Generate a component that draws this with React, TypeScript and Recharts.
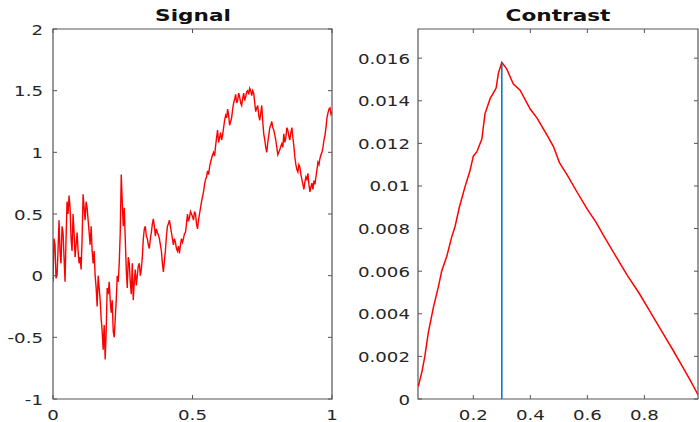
import React from 'react';
import { LineChart, Line, XAxis, YAxis, ReferenceArea, ReferenceLine } from 'recharts';

// signal samples, evenly spaced over [0, 1]
const signalValues = [
  -0.05, 0.3, 0.25, -0.02, 0.0, 0.2, 0.45, 0.2, 0.1, 0.4,
  0.35, 0.15, -0.05, 0.3, 0.6, 0.5, 0.65, 0.55, 0.3, 0.2,
  0.5, 0.35, 0.15, 0.25, 0.35, 0.2, 0.1, 0.15, 0.05, 0.3,
  0.66, 0.55, 0.45, 0.6, 0.55, 0.45, 0.35, 0.25, 0.4, 0.2,
  0.1, 0.2, 0.0, -0.1, -0.25, 0.0, -0.1, -0.2, -0.35, -0.45,
  -0.6, -0.4, -0.68, -0.45, -0.1, -0.15, -0.05, -0.2, -0.3, -0.2,
  -0.45, -0.5, -0.35, -0.2, 0.0, -0.05, 0.1, 0.35, 0.82, 0.6,
  0.4, 0.55, 0.3, 0.05, -0.1, 0.15, 0.1, -0.05, -0.15, 0.1,
  -0.2, -0.05, 0.05, -0.08, 0.0, 0.08, 0.1, 0.0, 0.05, 0.15,
  0.3, 0.38, 0.4, 0.32, 0.3, 0.25, 0.22, 0.3, 0.35, 0.42,
  0.46, 0.4, 0.32, 0.38, 0.35, 0.33, 0.3, 0.25, 0.2, 0.1,
  0.03, 0.12, 0.2, 0.32, 0.4, 0.42, 0.45, 0.4, 0.35, 0.3,
  0.25, 0.3, 0.27, 0.22, 0.2, 0.24, 0.18, 0.25, 0.3, 0.27,
  0.3, 0.34, 0.35, 0.42, 0.5, 0.44, 0.47, 0.52, 0.5, 0.48,
  0.45, 0.52, 0.5, 0.42, 0.38, 0.45, 0.5, 0.55, 0.6, 0.64,
  0.68, 0.74, 0.78, 0.8, 0.85, 0.82, 0.88, 0.92, 0.95, 0.98,
  1.0, 0.97, 1.05, 1.12, 1.18, 1.08, 1.12, 1.16, 1.1, 1.14,
  1.2, 1.26, 1.3, 1.28, 1.35, 1.3, 1.22, 1.25, 1.28, 1.35,
  1.4, 1.43, 1.47, 1.4, 1.42, 1.48, 1.45, 1.4, 1.38, 1.44,
  1.48, 1.42, 1.45, 1.49, 1.5, 1.47, 1.52, 1.5, 1.46, 1.5,
  1.48, 1.4, 1.33, 1.36, 1.38, 1.3, 1.26, 1.32, 1.38, 1.25,
  1.15, 1.1, 1.04, 1.0, 1.08, 1.14, 1.2, 1.22, 1.25, 1.2,
  1.18, 1.14, 1.1, 1.04, 0.98, 1.0, 1.02, 1.05, 1.07, 1.04,
  1.15, 1.08, 1.12, 1.2, 1.18, 1.13, 1.1, 1.16, 1.2, 1.12,
  1.05, 0.96, 0.9, 0.86, 0.84, 0.9, 0.88, 0.82, 0.78, 0.74,
  0.7, 0.76, 0.8, 0.78, 0.83, 0.74, 0.68, 0.72, 0.75, 0.7,
  0.77, 0.74, 0.8, 0.86, 0.92, 0.9, 0.95, 0.98, 1.0, 1.04,
  1.1, 1.14, 1.2, 1.28, 1.32, 1.35, 1.36, 1.31, 1.33,
];
const signalXTicks = [0, 0.5, 1];
const signalYTicks = [-1, -0.5, 0, 0.5, 1, 1.5, 2];

const contrastX = [
  0.007, 0.02, 0.03, 0.042, 0.06, 0.078, 0.089, 0.107, 0.124, 0.136,
  0.151, 0.171, 0.188, 0.2, 0.212, 0.23, 0.241, 0.259, 0.28, 0.288,
  0.3, 0.317, 0.34, 0.364, 0.4, 0.423, 0.458, 0.481, 0.502, 0.53,
  0.56, 0.6, 0.63, 0.66, 0.7, 0.74, 0.78, 0.82, 0.86, 0.9,
  0.93, 0.96, 0.988,
];
const contrastY = [
  0.00058, 0.0013, 0.002, 0.0031, 0.0043, 0.0053, 0.006, 0.0067, 0.0076, 0.0081,
  0.009, 0.00997, 0.0107, 0.0114, 0.0116, 0.0122, 0.0134, 0.0141, 0.0146, 0.0153,
  0.0158, 0.0155, 0.0148, 0.0145, 0.0136, 0.0132, 0.0124, 0.01185, 0.0111, 0.0105,
  0.0098, 0.0089, 0.0083, 0.0076, 0.0067, 0.0058, 0.005, 0.0041, 0.0032, 0.0023,
  0.0016, 0.0009, 0.0002,
];
const contrastXTicks = [0.2, 0.4, 0.6, 0.8];
const contrastYTicks = [0, 0.002, 0.004, 0.006, 0.008, 0.01, 0.012, 0.014, 0.016];

const signalData = signalValues.map((v, i) => ({ x: i / (signalValues.length - 1), y: v }));
const contrastData = contrastX.map((x, i) => ({ x, y: contrastY[i] }));
const peakIdx = contrastY.indexOf(Math.max(...contrastY));

const TOP = 29;
const BOTTOM = 399;
const AXIS = '#555';
const TEXT = '#262626';
const FONT = '"DejaVu Sans", sans-serif';
const TICK_LEN = 4;
const SX = 1.3;

const XTick = (props: any) => {
  const { x, payload } = props;
  return (
    <g>
      <line x1={x} x2={x} y1={BOTTOM} y2={BOTTOM - TICK_LEN} stroke={AXIS} strokeWidth={1} />
      <line x1={x} x2={x} y1={TOP} y2={TOP + TICK_LEN} stroke={AXIS} strokeWidth={1} />
      <text
        transform={`translate(${x},${BOTTOM + 20.5}) scale(${SX},1)`}
        textAnchor="middle"
        fill={TEXT}
        fontSize={14}
        fontFamily={FONT}
      >
        {String(payload.value)}
      </text>
    </g>
  );
};

const YTick = (props: any) => {
  const { y, payload, leftX, rightX, gap } = props;
  return (
    <g>
      <line x1={leftX} x2={leftX + TICK_LEN} y1={y} y2={y} stroke={AXIS} strokeWidth={1} />
      <line x1={rightX} x2={rightX - TICK_LEN} y1={y} y2={y} stroke={AXIS} strokeWidth={1} />
      <text
        transform={`translate(${leftX - gap},${y + 5.5}) scale(${SX},1)`}
        textAnchor="end"
        fill={TEXT}
        fontSize={14}
        fontFamily={FONT}
      >
        {String(payload.value)}
      </text>
    </g>
  );
};

const titleStyle = (center: number): React.CSSProperties => ({
  position: 'absolute',
  left: center,
  top: 7.5,
  transform: 'translateX(-50%) scaleX(1.35)',
  fontFamily: FONT,
  fontWeight: 'bold',
  fontSize: 16,
  lineHeight: '16px',
  color: '#111',
  whiteSpace: 'nowrap',
});

export default function App() {
  return (
    <div style={{ position: 'absolute', left: 0, top: 0, width: 699, height: 422, background: '#fff', overflow: 'hidden' }}>
      <div style={{ position: 'absolute', left: 0, top: 0 }}>
        <LineChart width={345} height={422} data={signalData} margin={{ top: TOP, right: 13, bottom: 422 - BOTTOM - 20, left: 53 - 20 }}>
          <XAxis dataKey="x" type="number" domain={[0, 1]} ticks={signalXTicks} height={20} axisLine={false} tickLine={false} tick={<XTick />} interval={0} allowDataOverflow />
          <YAxis type="number" domain={[-1, 2]} ticks={signalYTicks} width={20} axisLine={false} tickLine={false} tick={<YTick leftX={53} rightX={332} gap={10} />} interval={0} allowDataOverflow />
          <ReferenceArea x1={0} x2={1} y1={-1} y2={2} fill="none" fillOpacity={0} stroke={AXIS} strokeWidth={1.2} />
          <Line dataKey="y" type="linear" stroke="#ff0000" strokeWidth={1.4} dot={false} isAnimationActive={false} />
        </LineChart>
      </div>
      <div style={{ position: 'absolute', left: 345, top: 0 }}>
        <LineChart width={354} height={422} data={contrastData} margin={{ top: TOP, right: 1, bottom: 422 - BOTTOM - 20, left: 73 - 20 }}>
          <XAxis dataKey="x" type="number" domain={[0.006, 0.988]} ticks={contrastXTicks} height={20} axisLine={false} tickLine={false} tick={<XTick />} interval={0} allowDataOverflow />
          <YAxis type="number" domain={[0, 0.01737]} ticks={contrastYTicks} width={20} axisLine={false} tickLine={false} tick={<YTick leftX={73} rightX={353} gap={8} />} interval={0} allowDataOverflow />
          <ReferenceArea x1={0.006} x2={0.988} y1={0} y2={0.01737} fill="none" fillOpacity={0} stroke={AXIS} strokeWidth={1.2} />
          <Line dataKey="y" type="linear" stroke="#ff0000" strokeWidth={1.5} dot={false} isAnimationActive={false} />
          <ReferenceLine
            segment={[{ x: contrastX[peakIdx], y: 0 }, { x: contrastX[peakIdx], y: contrastY[peakIdx] }]}
            stroke="#0072bd"
            strokeWidth={1.5}
          />
        </LineChart>
      </div>
      <div style={titleStyle(192.5)}>Signal</div>
      <div style={titleStyle(558)}>Contrast</div>
    </div>
  );
}
